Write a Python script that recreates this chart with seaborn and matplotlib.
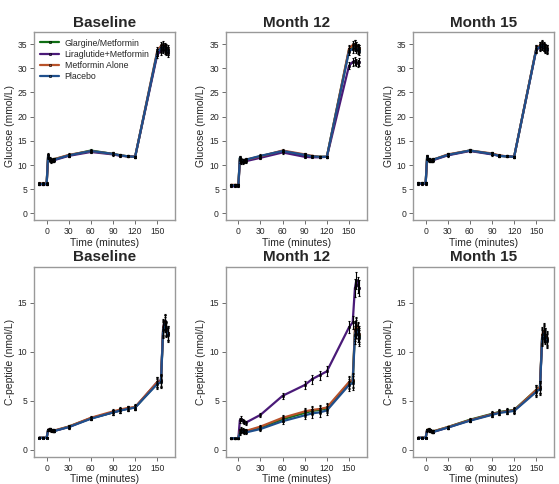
import matplotlib
matplotlib.use("Agg")
import matplotlib.pyplot as plt
import seaborn as sns
import pandas as pd

# sampling times (minutes)
times = [-10, -5, 0, 2, 4, 6, 8, 10, 30, 60, 90, 100, 110, 120, 150, 155, 158, 160, 162, 164]

groups = ["Glargine/Metformin", "Liraglutide+Metformin", "Metformin Alone", "Placebo"]
colors = ["#0f6e14", "#4a1a78", "#b8522a", "#1f4f8c"]
visits = ["Baseline", "Month 12", "Month 15"]

# glucose (mmol/L)
glu_base_glar = [6.1, 6.1, 6.1, 11.8, 11.2, 11.0, 11.0, 11.2, 12.0, 13.0, 12.3, 12.0, 11.8, 11.7, 33.2, 34.0, 34.5, 34.2, 33.8, 33.5]
glu_base_lira = [6.0, 6.0, 6.0, 11.6, 11.0, 10.8, 10.9, 11.0, 11.9, 12.7, 12.2, 11.9, 11.8, 11.7, 32.8, 33.6, 34.0, 33.8, 33.5, 33.2]
glu_base_metf = [6.2, 6.2, 6.2, 12.0, 11.3, 11.1, 11.1, 11.2, 12.1, 12.9, 12.3, 12.0, 11.8, 11.7, 33.6, 34.6, 34.8, 34.5, 34.2, 34.0]
glu_base_plac = [6.1, 6.1, 6.1, 11.9, 11.2, 11.0, 11.0, 11.1, 12.0, 12.9, 12.3, 12.0, 11.8, 11.7, 33.3, 34.2, 34.4, 34.1, 33.9, 33.6]

glu_m12_glar = [5.8, 5.8, 5.8, 11.4, 11.0, 10.9, 10.9, 11.0, 11.8, 12.9, 12.0, 11.8, 11.7, 11.7, 33.8, 34.5, 35.0, 34.6, 34.2, 34.0]
glu_m12_lira = [5.6, 5.6, 5.6, 10.9, 10.6, 10.6, 10.7, 10.8, 11.5, 12.6, 11.7, 11.6, 11.6, 11.7, 30.5, 31.3, 31.5, 31.2, 31.0, 31.3]
glu_m12_metf = [5.9, 5.9, 5.9, 11.3, 11.0, 11.0, 11.0, 11.1, 11.8, 13.0, 12.2, 11.9, 11.7, 11.7, 34.0, 34.8, 35.0, 34.6, 34.3, 34.1]
glu_m12_plac = [5.8, 5.8, 5.8, 11.5, 11.1, 11.0, 11.0, 11.1, 11.9, 12.9, 12.1, 11.8, 11.7, 11.7, 33.5, 34.0, 34.3, 34.0, 33.8, 33.6]

glu_m15_glar = [6.2, 6.2, 6.2, 11.6, 11.1, 11.0, 11.0, 11.1, 12.1, 13.0, 12.3, 11.9, 11.8, 11.7, 34.0, 34.6, 34.8, 34.5, 34.2, 34.0]
glu_m15_lira = [6.1, 6.1, 6.1, 11.4, 11.0, 10.9, 10.9, 11.0, 12.0, 12.9, 12.2, 11.9, 11.8, 11.7, 33.8, 34.3, 34.6, 34.3, 34.0, 33.8]
glu_m15_metf = [6.2, 6.2, 6.2, 11.7, 11.2, 11.1, 11.0, 11.1, 12.2, 13.0, 12.4, 12.0, 11.8, 11.7, 34.1, 34.7, 35.0, 34.6, 34.3, 34.1]
glu_m15_plac = [6.2, 6.2, 6.2, 11.6, 11.1, 11.0, 11.0, 11.1, 12.1, 13.0, 12.3, 11.9, 11.8, 11.7, 33.9, 34.5, 34.8, 34.4, 34.1, 33.9]

# C-peptide (nmol/L)
cp_base_glar = [1.2, 1.2, 1.2, 2.0, 2.1, 2.0, 1.95, 1.9, 2.35, 3.2, 3.8, 4.0, 4.2, 4.3, 6.8, 7.0, 12.3, 13.0, 12.3, 11.8]
cp_base_lira = [1.2, 1.2, 1.2, 2.0, 2.1, 2.0, 1.95, 1.9, 2.3, 3.2, 3.8, 4.0, 4.2, 4.3, 6.9, 7.1, 12.5, 13.1, 12.4, 11.9]
cp_base_metf = [1.2, 1.2, 1.2, 2.0, 2.1, 2.0, 1.95, 1.95, 2.35, 3.25, 3.9, 4.1, 4.25, 4.35, 6.9, 7.0, 12.4, 13.0, 12.3, 11.9]
cp_base_plac = [1.2, 1.2, 1.2, 2.0, 2.05, 1.95, 1.9, 1.9, 2.3, 3.15, 3.8, 4.0, 4.15, 4.3, 6.7, 6.9, 12.2, 12.8, 12.2, 11.7]

cp_m12_glar = [1.15, 1.15, 1.15, 1.85, 2.0, 1.95, 1.9, 1.85, 2.25, 3.1, 3.75, 3.95, 4.05, 4.2, 6.8, 7.0, 12.0, 12.6, 12.1, 11.6]
cp_m12_lira = [1.15, 1.15, 1.15, 3.0, 3.15, 2.95, 2.85, 2.75, 3.55, 5.5, 6.6, 7.2, 7.6, 8.0, 12.5, 13.0, 16.5, 17.3, 16.8, 16.5]
cp_m12_metf = [1.15, 1.15, 1.15, 1.9, 2.05, 2.0, 1.95, 1.9, 2.35, 3.25, 3.9, 4.05, 4.15, 4.3, 6.9, 7.1, 12.2, 12.7, 12.2, 11.8]
cp_m12_plac = [1.15, 1.15, 1.15, 1.75, 1.9, 1.85, 1.8, 1.75, 2.1, 2.9, 3.5, 3.7, 3.8, 4.0, 6.6, 6.8, 11.7, 12.3, 11.8, 11.4]

cp_m15_glar = [1.2, 1.2, 1.2, 2.0, 2.05, 1.95, 1.9, 1.85, 2.3, 3.05, 3.65, 3.85, 3.95, 4.05, 6.1, 6.4, 11.6, 12.0, 11.7, 11.3]
cp_m15_lira = [1.2, 1.2, 1.2, 2.0, 2.0, 1.9, 1.85, 1.8, 2.25, 3.0, 3.6, 3.8, 3.9, 4.0, 6.0, 6.3, 11.5, 11.9, 11.6, 11.2]
cp_m15_metf = [1.2, 1.2, 1.2, 2.0, 2.05, 1.95, 1.9, 1.85, 2.3, 3.0, 3.6, 3.8, 3.9, 4.0, 6.1, 6.4, 11.7, 12.1, 11.7, 11.4]
cp_m15_plac = [1.2, 1.2, 1.2, 1.95, 2.0, 1.9, 1.85, 1.8, 2.25, 2.95, 3.55, 3.75, 3.85, 3.95, 5.9, 6.2, 11.4, 11.8, 11.5, 11.1]

# standard errors per panel
glu_se = [0.2, 0.2, 0.2, 0.4, 0.3, 0.3, 0.3, 0.3, 0.3, 0.3, 0.3, 0.2, 0.2, 0.2, 0.7, 0.8, 0.8, 0.8, 0.8, 0.8]
cp_se = [0.05, 0.05, 0.05, 0.15, 0.15, 0.15, 0.15, 0.15, 0.15, 0.15, 0.25, 0.25, 0.25, 0.3, 0.5, 0.6, 0.8, 0.8, 0.7, 0.7]
cp_se_m12 = [0.05, 0.05, 0.05, 0.25, 0.25, 0.2, 0.2, 0.2, 0.2, 0.3, 0.4, 0.45, 0.45, 0.5, 0.6, 0.7, 0.9, 0.9, 0.8, 0.8]

glucose = [
    [glu_base_glar, glu_base_lira, glu_base_metf, glu_base_plac],
    [glu_m12_glar, glu_m12_lira, glu_m12_metf, glu_m12_plac],
    [glu_m15_glar, glu_m15_lira, glu_m15_metf, glu_m15_plac],
]
cpeptide = [
    [cp_base_glar, cp_base_lira, cp_base_metf, cp_base_plac],
    [cp_m12_glar, cp_m12_lira, cp_m12_metf, cp_m12_plac],
    [cp_m15_glar, cp_m15_lira, cp_m15_metf, cp_m15_plac],
]

sns.set_style("white")
plt.rcParams["font.family"] = ["Liberation Sans", "DejaVu Sans"]


def draw_panel(ax, series, se, title, ylabel, ylim, yticks, legend):
    df = pd.concat([pd.DataFrame({"time": times, "value": v, "group": g})
                    for g, v in zip(groups, series)])
    sns.lineplot(data=df, x="time", y="value", hue="group", hue_order=groups,
                 palette=colors, marker="o", markersize=1.8, markeredgecolor="black",
                 markeredgewidth=0.4, linewidth=1.6, ax=ax, legend=legend, errorbar=None)
    for v in series:
        ax.errorbar(times, v, yerr=se, fmt="none", ecolor="black",
                    elinewidth=0.8, capsize=1.0, capthick=0.8)
    ax.set_xlim(-17, 174)
    ax.set_ylim(*ylim)
    ax.set_xticks([0, 30, 60, 90, 120, 150])
    ax.set_yticks(yticks)
    ax.set_title(title, fontsize=11, fontweight="bold", pad=4)
    ax.set_xlabel("Time (minutes)", fontsize=7.5, labelpad=1)
    ax.set_ylabel(ylabel, fontsize=7.5, labelpad=2)
    ax.tick_params(direction="out", length=3, width=0.6, color="#555555",
                   labelsize=6.2, pad=2, left=True, bottom=True)
    for s in ax.spines.values():
        s.set_color("#999999")
        s.set_linewidth(1.0)
    if legend:
        h, l = ax.get_legend_handles_labels()
        ax.legend(h, l, frameon=False, loc="upper left", fontsize=6.3,
                  handlelength=2.2, labelspacing=0.25, borderaxespad=0.3,
                  handletextpad=0.6)


fig = plt.figure(figsize=(5.59, 4.84), dpi=100)
lefts = [0.061, 0.404, 0.739]
w = 0.252
for i, visit in enumerate(visits):
    ax1 = fig.add_axes([lefts[i], 0.545, w, 0.388])
    draw_panel(ax1, glucose[i], glu_se, visit, "Glucose (mmol/L)",
               (-1.4, 37.4), [0, 5, 10, 15, 20, 25, 30, 35], i == 0)
    ax2 = fig.add_axes([lefts[i], 0.056, w, 0.393])
    draw_panel(ax2, cpeptide[i], cp_se_m12 if i == 1 else cp_se, visit,
               "C-peptide (nmol/L)", (-0.75, 18.7), [0, 5, 10, 15], False)

fig.savefig("out.png", dpi=100)
